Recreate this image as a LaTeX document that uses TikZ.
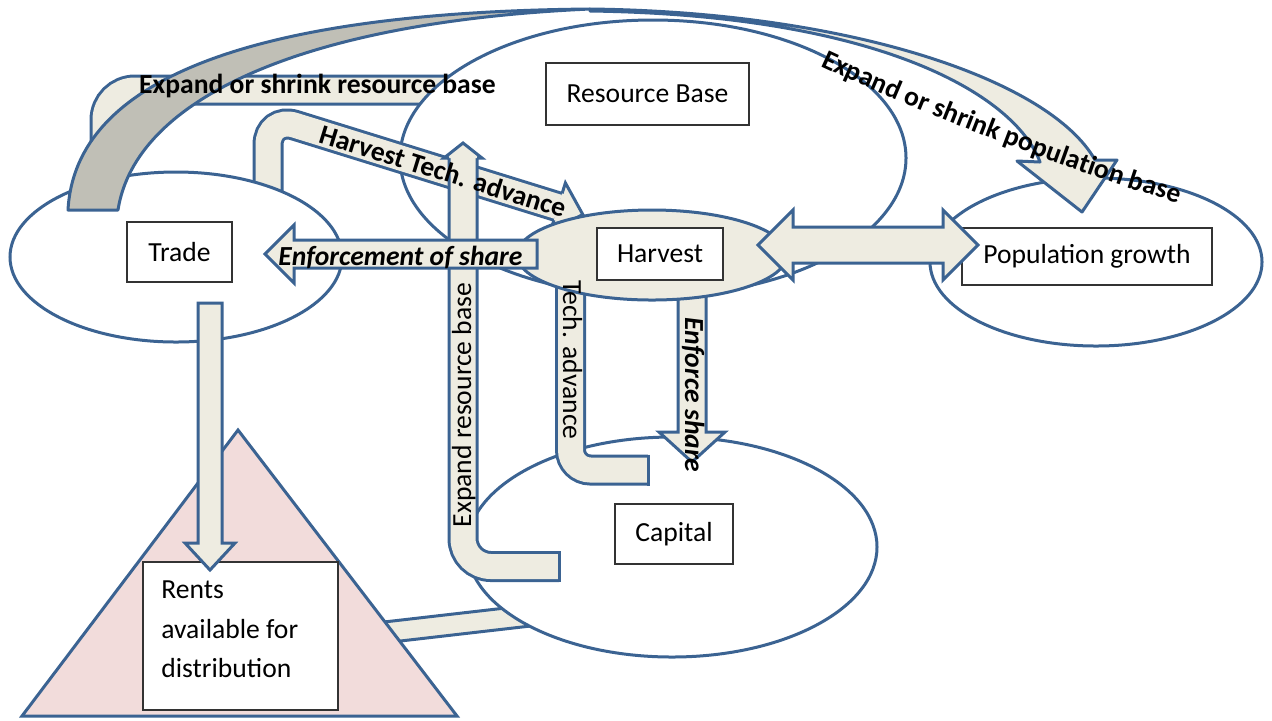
\documentclass[tikz,border=0pt]{standalone}
\usepackage{fontspec}
\setmainfont{Carlito}
\usetikzlibrary{shapes.geometric,decorations.text}
\definecolor{ob}{RGB}{59,99,146}
\definecolor{bg}{RGB}{238,236,225}
\definecolor{gy}{RGB}{192,191,182}
\definecolor{pk}{RGB}{242,220,219}
\newcommand\lf{\fontsize{13.8}{16.5}\selectfont}
\begin{document}
\begin{tikzpicture}[x=0.5pt,y=-0.5pt,
  ol/.style={draw=ob,line width=1.5pt},
  ell/.style={ellipse,draw=ob,line width=1.5pt,fill=white,inner sep=0pt},
  box/.style={rectangle,draw=black!80,line width=0.8pt,fill=white,inner sep=0pt,font=\lf},
  blk/.style={draw=ob,line width=1.5pt,fill=bg,line join=miter},
  band/.style={draw=bg,line width=12.5pt,preaction={draw=ob,line width=15.5pt}},
  txt/.style={font=\lf,inner sep=0pt}]
\useasboundingbox (0,0) rectangle (1272,720);
% expand or shrink resource base band
\draw[band, rounded corners=15pt] (480,90) -- (105,90) -- (105,178);
% resource base ellipse
\node[ell,minimum width=253pt,minimum height=138pt] (res) at (653,158) {};
% harvest tech band
\draw[band, rounded corners=14pt] (268,212) -- (268,116.9) -- (558,206.8);
\draw[blk] (562.1,193.4) -- (565.4,182.9) -- (582.8,214.5) -- (550.6,230.7) -- (553.9,220.2);
% trade ellipse
\node[ell,minimum width=166pt,minimum height=85pt] (trade) at (176,257) {};
% rents band
\draw[blk] (370,623.6) -- (560,601.7) -- (560,622.6) -- (370,644.5) -- cycle;
% capital ellipse
\node[ell,minimum width=205pt,minimum height=110pt] (cap) at (672,547) {};
% expand resource base arrow
\draw[band, rounded corners=14pt] (463,158) -- (463,566.5) -- (559,566.5);
\draw[ol] (559,551) -- (559,582);
\draw[blk] (449,158) -- (444,158) -- (463,143) -- (482,158) -- (477,158);
% tech advance band
\draw[band, rounded corners=10pt] (570.5,280) -- (570.5,470) -- (648,470);
\draw[ol] (648,454.5) -- (648,485.5);
% enforce share arrow
\draw[blk] (678,285) -- (678,432) -- (659,432) -- (692,462) -- (725,432) -- (706,432) -- (706,285);
% harvest ellipse
\node[ell,fill=bg,minimum width=135pt,minimum height=45pt] (harv) at (652,255) {};
% enforcement of share arrow
\draw[blk] (537,240) -- (294,240) -- (294,225) -- (265,254) -- (294,283) -- (294,268) -- (537,268) -- cycle;
% population
\node[ell,minimum width=166pt,minimum height=84pt] (pop) at (1096,262) {};
\node[box,minimum width=125pt,minimum height=28.5pt] (popbox) at (1087,256.5) {Population growth};
% double arrow
\draw[blk] (758,245) -- (793,210) -- (793,227) -- (943,227) -- (943,210) -- (978,245) -- (943,280) -- (943,263) -- (793,263) -- (793,280) -- cycle;
% curved arrow
\draw[ol,fill=gy,line join=round] (68,210) .. controls (75,80) and (250,12) .. (590,9) .. controls (300,22) and (135,100) .. (118,210) -- cycle;
\draw[blk,line join=round] (590,9) .. controls (850,12) and (1050,80) .. (1095,160) -- (1117,160) -- (1082,212) -- (1017,161) -- (1040,162) .. controls (1015,95) and (880,15) .. (590,11) -- cycle;
% triangle
\draw[ol,fill=pk,line join=miter] (238,430) -- (457,716) -- (22,716) -- cycle;
\node[box,minimum width=97.5pt,minimum height=74pt] (rents) at (240.5,636) {};
\draw[blk] (198,303) -- (198,543) -- (185,543) -- (210,570) -- (235,543) -- (222,543) -- (222,303) -- cycle;
% boxes
\node[box,minimum width=52.5pt,minimum height=30pt] (tradebox) at (179.5,252) {Trade};
\node[box,minimum width=101.5pt,minimum height=31pt] (resbox) at (647.5,94) {Resource Base};
\node[box,minimum width=63pt,minimum height=26pt] (harvbox) at (660,254) {Harvest};
\node[box,minimum width=59pt,minimum height=30pt] (capbox) at (674,534) {Capital};
% labels
\node[txt,font=\lf\bfseries,anchor=base] (t1) at (317.5,93.5) {Expand or shrink resource base};
\node[txt,font=\lf\bfseries,rotate=-17.2] (t2) at (443,171) {Harvest Tech. advance};
\node[txt,font=\lf\bfseries\itshape,anchor=base] (t3) at (400.5,265) {Enforcement of share};
\node[txt,rotate=90,anchor=base] (t4) at (471,405) {Expand resource base};
\node[txt,rotate=-90,anchor=base] (t5) at (563,360) {Tech. advance};
\node[txt,font=\lf\bfseries\itshape,rotate=-90,anchor=base] (t6) at (685,395) {Enforce share};
\path[decorate,decoration={text along path,text={|\lf\bfseries|Expand or shrink population base}}] (820,66) .. controls (928.8,116.7) and (1071.2,170.9) .. (1186,206);
\node[txt,anchor=base west] (r1) at (161,598) {Rents};
\node[txt,anchor=base west] (r2) at (161,638) {available for};
\node[txt,anchor=base west] (r3) at (161,677) {distribution};
\end{tikzpicture}
\end{document}
